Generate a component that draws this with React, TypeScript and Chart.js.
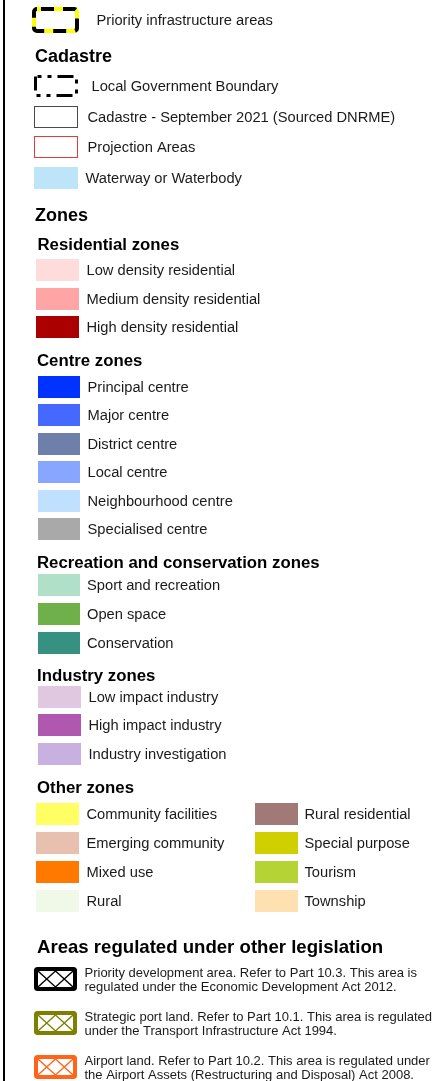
import React, { useEffect, useRef } from 'react';
import { Chart, registerables } from 'chart.js';

Chart.register(...registerables);

const WIDTH = 446;
const HEIGHT = 1081;
const FONT = '"Liberation Sans", Arial, Helvetica, sans-serif';
const TEXT_COLOR = '#1a1a1a';
const TEXT_NUDGE = 1;

// ---------------- data ----------------
const priorityLabels = ['Priority infrastructure areas'];

const cadastreTitle = 'Cadastre';
const cadastreLabels = [
  'Local Government Boundary',
  'Cadastre - September 2021 (Sourced DNRME)',
  'Projection Areas',
  'Waterway or Waterbody',
];
const cadastreFills = ['rgba(0,0,0,0)', '#ffffff', '#ffffff', '#bee4fa'];
const cadastreBorders = ['rgba(0,0,0,0)', '#4a4a4a', '#e23b3b', '#bee4fa'];
const cadastreBorderWidths = [0, 1, 1, 0];
const cadastreStyles = ['lgb', 'plain', 'plain', 'plain'];

const zonesTitle = 'Zones';

const residentialTitle = 'Residential zones';
const residentialLabels = ['Low density residential', 'Medium density residential', 'High density residential'];
const residentialColors = ['#ffdcdc', '#ffa5a5', '#aa0000'];

const centreTitle = 'Centre zones';
const centreLabels = [
  'Principal centre',
  'Major centre',
  'District centre',
  'Local centre',
  'Neighbourhood centre',
  'Specialised centre',
];
const centreColors = ['#0033ff', '#4569ff', '#6e80aa', '#88a6ff', '#bfe1ff', '#a9a9a9'];

const recreationTitle = 'Recreation and conservation zones';
const recreationLabels = ['Sport and recreation', 'Open space', 'Conservation'];
const recreationColors = ['#b0e0c8', '#70b04b', '#379180'];

const industryTitle = 'Industry zones';
const industryLabels = ['Low impact industry', 'High impact industry', 'Industry investigation'];
const industryColors = ['#e0c8e0', '#b058b0', '#c8b1e1'];

const otherTitle = 'Other zones';
const otherLeftLabels = ['Community facilities', 'Emerging community', 'Mixed use', 'Rural'];
const otherLeftColors = ['#ffff64', '#e8c0b0', '#ff7800', '#f0f8e8'];
const otherRightLabels = ['Rural residential', 'Special purpose', 'Tourism', 'Township'];
const otherRightColors = ['#a17a78', '#d0d000', '#b5d334', '#ffe0b0'];

const legislationTitle = 'Areas regulated under other legislation';
const legislationLines = [
  ['Priority development area. Refer to Part 10.3. This area is', 'regulated under the Economic Development Act 2012.'],
  ['Strategic port land. Refer to Part 10.1. This area is regulated', 'under the Transport Infrastructure Act 1994.'],
  ['Airport land. Refer to Part 10.2. This area is regulated under', 'the Airport Assets (Restructuring and Disposal) Act 2008.'],
];
const legislationColors = ['#000000', '#7f7f00', '#ff6418'];

// ---------------- layout (positions / sizes / styles) ----------------
const fillAll = (n: number, v: any) => Array.from({ length: n }, () => v);

const SECTIONS: any[] = [
  {
    key: 'priority', labels: priorityLabels, fills: ['rgba(0,0,0,0)'], borders: ['rgba(0,0,0,0)'], widths: [0],
    styles: ['priority'], firstGap: 20, step: 0, x0: 32, x1: 79, textX: [96.5], thickness: 26, textSize: 14.7,
  },
  {
    key: 'cadastre', title: cadastreTitle, titleSize: 18, titleX: 35, titleGap: 36,
    labels: cadastreLabels, fills: cadastreFills, borders: cadastreBorders, widths: cadastreBorderWidths,
    styles: cadastreStyles, firstGap: 30, step: 30.5, x0: 34, x1: 78, textX: [91.5, 87.5, 87.5, 85.5],
    thickness: 22, textSize: 14.7,
  },
  { key: 'zones', title: zonesTitle, titleSize: 18, titleX: 35, titleGap: 37.5 },
  {
    key: 'residential', title: residentialTitle, titleSize: 16.8, titleX: 37.5, titleGap: 29,
    labels: residentialLabels, fills: residentialColors, firstGap: 26, step: 28.5, x0: 36, x1: 79, textX: 86.5,
    thickness: 22, textSize: 14.7,
  },
  {
    key: 'centre', title: centreTitle, titleSize: 16.8, titleX: 37, titleGap: 33,
    labels: centreLabels, fills: centreColors, firstGap: 27, step: 28.4, x0: 38, x1: 80, textX: 87.5,
    thickness: 22, textSize: 14.7,
  },
  {
    key: 'recreation', title: recreationTitle, titleSize: 16.8, titleX: 37, titleGap: 33,
    labels: recreationLabels, fills: recreationColors, firstGap: 23, step: 29, x0: 38, x1: 80, textX: 87,
    thickness: 22, textSize: 14.7,
  },
  {
    key: 'industry', title: industryTitle, titleSize: 16.8, titleX: 37, titleGap: 32,
    labels: industryLabels, fills: industryColors, firstGap: 22, step: 28.3, x0: 38, x1: 81, textX: 88.5,
    thickness: 22, textSize: 14.7,
  },
  {
    key: 'otherLeft', title: otherTitle, titleSize: 16.8, titleX: 37, titleGap: 33.4,
    labels: otherLeftLabels, fills: otherLeftColors, firstGap: 27, step: 29, x0: 36, x1: 79, textX: 86.5,
    thickness: 22, textSize: 14.7,
  },
  {
    key: 'otherRight', sameRows: true,
    labels: otherRightLabels, fills: otherRightColors, x0: 255, x1: 298, textX: 304.5,
    thickness: 22, textSize: 14.7,
  },
  {
    key: 'legislation', title: legislationTitle, titleSize: 18.6, titleX: 37, titleGap: 46,
    labels: legislationLines, fills: fillAll(3, '#ffffff'), borders: legislationColors, widths: fillAll(3, 4),
    styles: fillAll(3, 'hatch'), radius: 3, firstGap: 32, step: 44, x0: 34, x1: 77, textX: 84.5,
    thickness: 24, textSize: 13, lineGap: 14,
  },
];

function buildLayout() {
  let y = 0;
  let prevRows: number[] = [];
  const titles: any[] = [];
  const datasets: any[] = [];
  for (const s of SECTIONS) {
    if (s.title) {
      y += s.titleGap;
      titles.push({ text: s.title, y, x: s.titleX, size: s.titleSize });
    }
    if (!s.labels) continue;
    let rows: number[];
    if (s.sameRows) {
      rows = prevRows;
    } else {
      y += s.firstGap;
      const start = y;
      rows = s.labels.map((_: any, i: number) => Math.round(start + i * s.step));
      y = start + (s.labels.length - 1) * s.step;
    }
    prevRows = rows;
    const n = s.labels.length;
    datasets.push({
      label: s.key,
      data: s.labels.map((_: any, i: number) => ({ x: [s.x0, s.x1], y: rows[i] })),
      backgroundColor: s.fills,
      borderColor: s.borders || s.fills,
      borderWidth: s.widths || fillAll(n, 0),
      borderRadius: s.radius || 0,
      borderSkipped: false,
      inflateAmount: 0,
      barThickness: s.thickness,
      grouped: false,
      rowLabels: s.labels,
      rowStyles: s.styles || fillAll(n, 'plain'),
      rowColors: s.borders || s.fills,
      textX: Array.isArray(s.textX) ? s.textX : fillAll(n, s.textX),
      textSize: s.textSize,
      lineGap: s.lineGap || 14,
    });
  }
  return { titles, datasets };
}

const LAYOUT = buildLayout();

function roundRectPath(ctx: CanvasRenderingContext2D, x: number, y: number, w: number, h: number, r: number) {
  ctx.beginPath();
  ctx.moveTo(x + r, y);
  ctx.lineTo(x + w - r, y);
  ctx.arcTo(x + w, y, x + w, y + r, r);
  ctx.lineTo(x + w, y + h - r);
  ctx.arcTo(x + w, y + h, x + w - r, y + h, r);
  ctx.lineTo(x + r, y + h);
  ctx.arcTo(x, y + h, x, y + h - r, r);
  ctx.lineTo(x, y + r);
  ctx.arcTo(x, y, x + r, y, r);
  ctx.closePath();
}

const legendPainter = {
  id: 'legendPainter',
  beforeDraw(chart: any) {
    const { ctx } = chart;
    ctx.save();
    ctx.fillStyle = '#ffffff';
    ctx.fillRect(0, 0, chart.width, chart.height);
    ctx.fillStyle = '#000000';
    ctx.fillRect(3, 0, 2, chart.height);
    ctx.restore();
  },
  afterDatasetsDraw(chart: any) {
    const { ctx } = chart;
    const xs = chart.scales.x;
    const ys = chart.scales.y;
    ctx.save();
    chart.data.datasets.forEach((ds: any, di: number) => {
      const meta = chart.getDatasetMeta(di);
      meta.data.forEach((el: any, i: number) => {
        const left = Math.min(el.x, el.base);
        const right = Math.max(el.x, el.base);
        const top = el.y - el.height / 2;
        const bottom = el.y + el.height / 2;
        const w = right - left;
        const h = bottom - top;
        const style = ds.rowStyles[i];
        const color = ds.rowColors[i];

        if (style === 'priority') {
          roundRectPath(ctx, left + 2, top + 2, w - 4, h - 4, 3);
          ctx.lineWidth = 4;
          ctx.setLineDash([]);
          ctx.strokeStyle = '#ffff00';
          ctx.stroke();
          ctx.setLineDash([13, 9]);
          ctx.lineDashOffset = -4;
          ctx.strokeStyle = '#000000';
          ctx.stroke();
          ctx.setLineDash([]);
          ctx.lineDashOffset = 0;
        } else if (style === 'lgb') {
          ctx.beginPath();
          ctx.rect(left + 1.5, top + 1.5, w - 3, h - 3);
          ctx.lineWidth = 3;
          ctx.strokeStyle = '#000000';
          ctx.setLineDash([4, 6, 4, 6, 16, 6]);
          ctx.lineDashOffset = -2;
          ctx.stroke();
          ctx.setLineDash([]);
          ctx.lineDashOffset = 0;
        } else if (style === 'hatch') {
          const ix0 = left + 4;
          const ix1 = right - 4;
          const iy0 = top + 4;
          const iy1 = bottom - 4;
          const mx = (ix0 + ix1) / 2;
          ctx.save();
          ctx.beginPath();
          ctx.rect(ix0, iy0, ix1 - ix0, iy1 - iy0);
          ctx.clip();
          ctx.beginPath();
          ctx.moveTo(ix0, iy0); ctx.lineTo(mx, iy1);
          ctx.moveTo(ix0, iy1); ctx.lineTo(mx, iy0);
          ctx.moveTo(mx, iy0); ctx.lineTo(ix1, iy1);
          ctx.moveTo(mx, iy1); ctx.lineTo(ix1, iy0);
          ctx.lineWidth = 1.3;
          ctx.strokeStyle = color;
          ctx.stroke();
          ctx.restore();
        }

        const label = ds.rowLabels[i];
        const tx = xs.getPixelForValue(ds.textX[i]);
        ctx.fillStyle = TEXT_COLOR;
        ctx.font = `${ds.textSize}px ${FONT}`;
        ctx.textAlign = 'left';
        ctx.textBaseline = 'middle';
        if (Array.isArray(label)) {
          label.forEach((line: string, li: number) => {
            ctx.fillText(line, tx, el.y + TEXT_NUDGE + (li - (label.length - 1) / 2) * ds.lineGap);
          });
        } else {
          ctx.fillText(label, tx, el.y + TEXT_NUDGE);
        }
      });
    });

    for (const t of LAYOUT.titles) {
      ctx.fillStyle = '#000000';
      ctx.font = `bold ${t.size}px ${FONT}`;
      ctx.textAlign = 'left';
      ctx.textBaseline = 'middle';
      ctx.fillText(t.text, xs.getPixelForValue(t.x), ys.getPixelForValue(t.y) + TEXT_NUDGE);
    }
    ctx.restore();
  },
};

export default function App() {
  const ref = useRef<HTMLCanvasElement>(null);
  useEffect(() => {
    if (!ref.current) return;
    const chart = new Chart(ref.current, {
      type: 'bar',
      data: { datasets: LAYOUT.datasets },
      options: {
        animation: false,
        responsive: false,
        devicePixelRatio: 1,
        indexAxis: 'y',
        events: [],
        layout: { padding: 0 },
        plugins: {
          legend: { display: false },
          tooltip: { enabled: false },
          title: { display: false },
        },
        scales: {
          x: { type: 'linear', min: 0, max: WIDTH, display: false, offset: false },
          y: { type: 'linear', min: 0, max: HEIGHT, reverse: true, display: false, offset: false },
        },
      },
      plugins: [legendPainter],
    } as any);
    return () => chart.destroy();
  }, []);
  return (
    <div style={{ position: 'absolute', left: 0, top: 0, width: WIDTH, height: HEIGHT, background: '#fff' }}>
      <canvas ref={ref} width={WIDTH} height={HEIGHT} style={{ display: 'block', width: WIDTH, height: HEIGHT }} />
    </div>
  );
}
